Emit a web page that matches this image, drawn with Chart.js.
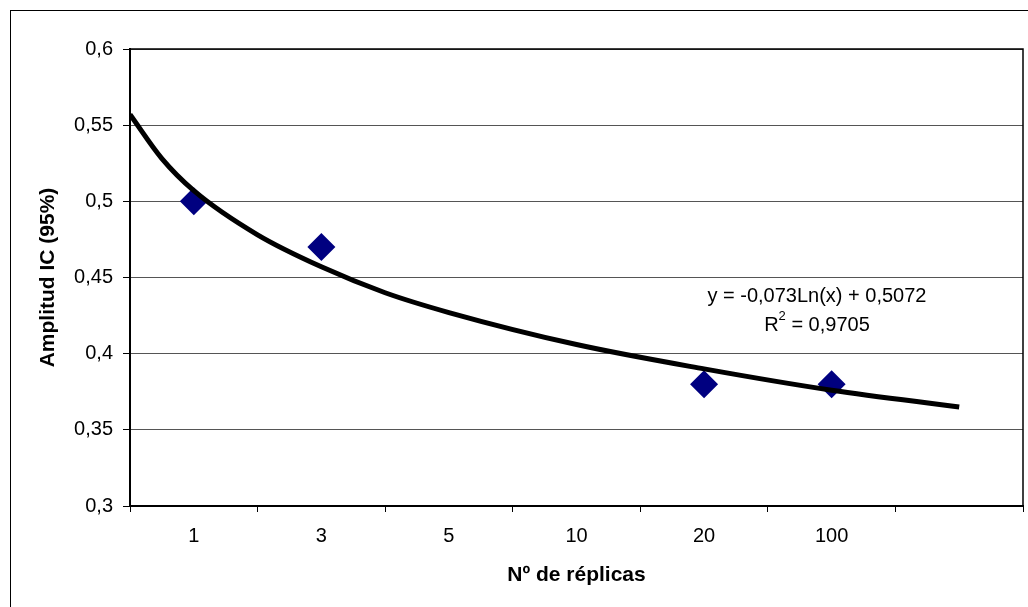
<!DOCTYPE html>
<html>
<head>
<meta charset="utf-8">
<script src="https://cdn.jsdelivr.net/npm/chart.js@4/dist/chart.umd.min.js"></script>
<style>
  html, body { margin: 0; padding: 0; background: #fff; }
  #wrap { width: 1028px; height: 607px; }
</style>
</head>
<body>
<div id="wrap"><canvas id="chart" width="1028" height="607"></canvas></div>
<script>
const categories = ["1", "3", "5", "10", "20", "100", ""];
const amplitude = [0.5, 0.47, null, null, 0.38, 0.38, null];

// logarithmic trend line
const trendX = [0.5, 0.75, 1, 1.5, 2, 2.5, 3, 4, 5, 6, 7];
const trendY = [0.557, 0.528, 0.507, 0.478, 0.457, 0.440, 0.427, 0.406, 0.390, 0.376, 0.365];

const yTicks = { min: 0.3, max: 0.6, step: 0.05 };
const equationText = "y = -0,073Ln(x) + 0,5072";
const r2Text = " = 0,9705";

const FONT = "'Liberation Sans', Arial, sans-serif";

const points = [];
amplitude.forEach((v, i) => {
  if (v !== null) points.push({ x: i + 1, y: v });
});
const trend = trendX.map((x, i) => ({ x: x, y: trendY[i] }));

const framePlugin = {
  id: "frame",
  beforeDraw(chart) {
    const ctx = chart.ctx;
    ctx.save();
    ctx.strokeStyle = "#000";
    ctx.lineWidth = 1;
    ctx.strokeRect(10.5, 10.5, 1040, 620);
    ctx.restore();
  },
  afterDatasetsDraw(chart) {
    const ctx = chart.ctx;
    const a = chart.chartArea;
    ctx.save();
    ctx.strokeStyle = "#000";
    ctx.lineWidth = 1.5;
    ctx.beginPath();
    ctx.moveTo(a.left, a.top);
    ctx.lineTo(a.right, a.top);
    ctx.lineTo(a.right, a.bottom);
    ctx.stroke();

    // equation label
    const xs = chart.scales.x, ys = chart.scales.y;
    const cx = xs.getPixelForValue(5.885);
    ctx.fillStyle = "#000";
    ctx.font = "20px " + FONT;
    ctx.textBaseline = "middle";
    ctx.textAlign = "center";
    ctx.fillText(equationText, cx, ys.getPixelForValue(0.4377));

    const y2 = ys.getPixelForValue(0.4187);
    const wR = ctx.measureText("R").width;
    const wRest = ctx.measureText(r2Text).width;
    ctx.font = "13px " + FONT;
    const wSup = ctx.measureText("2").width;
    const start = cx - (wR + wSup + wRest) / 2;
    ctx.textAlign = "left";
    ctx.font = "20px " + FONT;
    ctx.fillText("R", start, y2);
    ctx.fillText(r2Text, start + wR + wSup, y2);
    ctx.font = "13px " + FONT;
    ctx.fillText("2", start + wR, y2 - 9);
    ctx.restore();
  }
};

new Chart(document.getElementById("chart").getContext("2d"), {
  type: "scatter",
  data: {
    datasets: [
      {
        label: "Amplitud IC",
        data: points,
        pointStyle: "rectRot",
        pointRadius: 14,
        pointHoverRadius: 14,
        backgroundColor: "#000080",
        borderColor: "#000080",
        borderWidth: 0,
        order: 2
      },
      {
        label: "Tendencia",
        type: "line",
        data: trend,
        borderColor: "#000",
        borderWidth: 5,
        pointRadius: 0,
        cubicInterpolationMode: "monotone",
        fill: false,
        order: 1
      }
    ]
  },
  options: {
    responsive: false,
    animation: false,
    layout: { autoPadding: false, padding: { top: 49, right: 5, left: 0, bottom: 0 } },
    plugins: {
      legend: { display: false },
      tooltip: { enabled: false }
    },
    scales: {
      x: {
        type: "linear",
        min: 0.5,
        max: 7.5,
        afterBuildTicks(scale) {
          scale.ticks = categories.map((c, i) => ({ value: i + 1 }));
        },
        afterFit(scale) {
          scale.height = 101;
          scale.paddingLeft = 0;
          scale.paddingRight = 0;
        },
        ticks: {
          color: "#000",
          font: { family: FONT, size: 20 },
          padding: 12,
          maxRotation: 0,
          autoSkip: false,
          callback: (v) => categories[v - 1]
        },
        grid: {
          offset: true,
          drawOnChartArea: false,
          drawTicks: true,
          tickLength: 6,
          color: "#000"
        },
        border: { color: "#000", width: 2 },
        title: {
          display: true,
          text: "Nº de réplicas",
          color: "#000",
          font: { family: FONT, size: 21, weight: "bold" },
          padding: { top: 0, bottom: 19 }
        }
      },
      y: {
        min: yTicks.min,
        max: yTicks.max,
        afterFit(scale) { scale.width = 130; },
        ticks: {
          stepSize: yTicks.step,
          color: "#000",
          font: { family: FONT, size: 20 },
          padding: 10,
          callback: (v) => String(Number(v.toFixed(2))).replace(".", ",")
        },
        grid: {
          color: "#555",
          lineWidth: 1,
          tickLength: 7,
          tickColor: "#000"
        },
        border: { color: "#000", width: 2 },
        title: {
          display: true,
          text: "Amplitud IC (95%)",
          color: "#000",
          font: { family: FONT, size: 21, weight: "bold" },
          padding: { top: 36, bottom: 0 }
        }
      }
    }
  },
  plugins: [framePlugin]
});
</script>
</body>
</html>
